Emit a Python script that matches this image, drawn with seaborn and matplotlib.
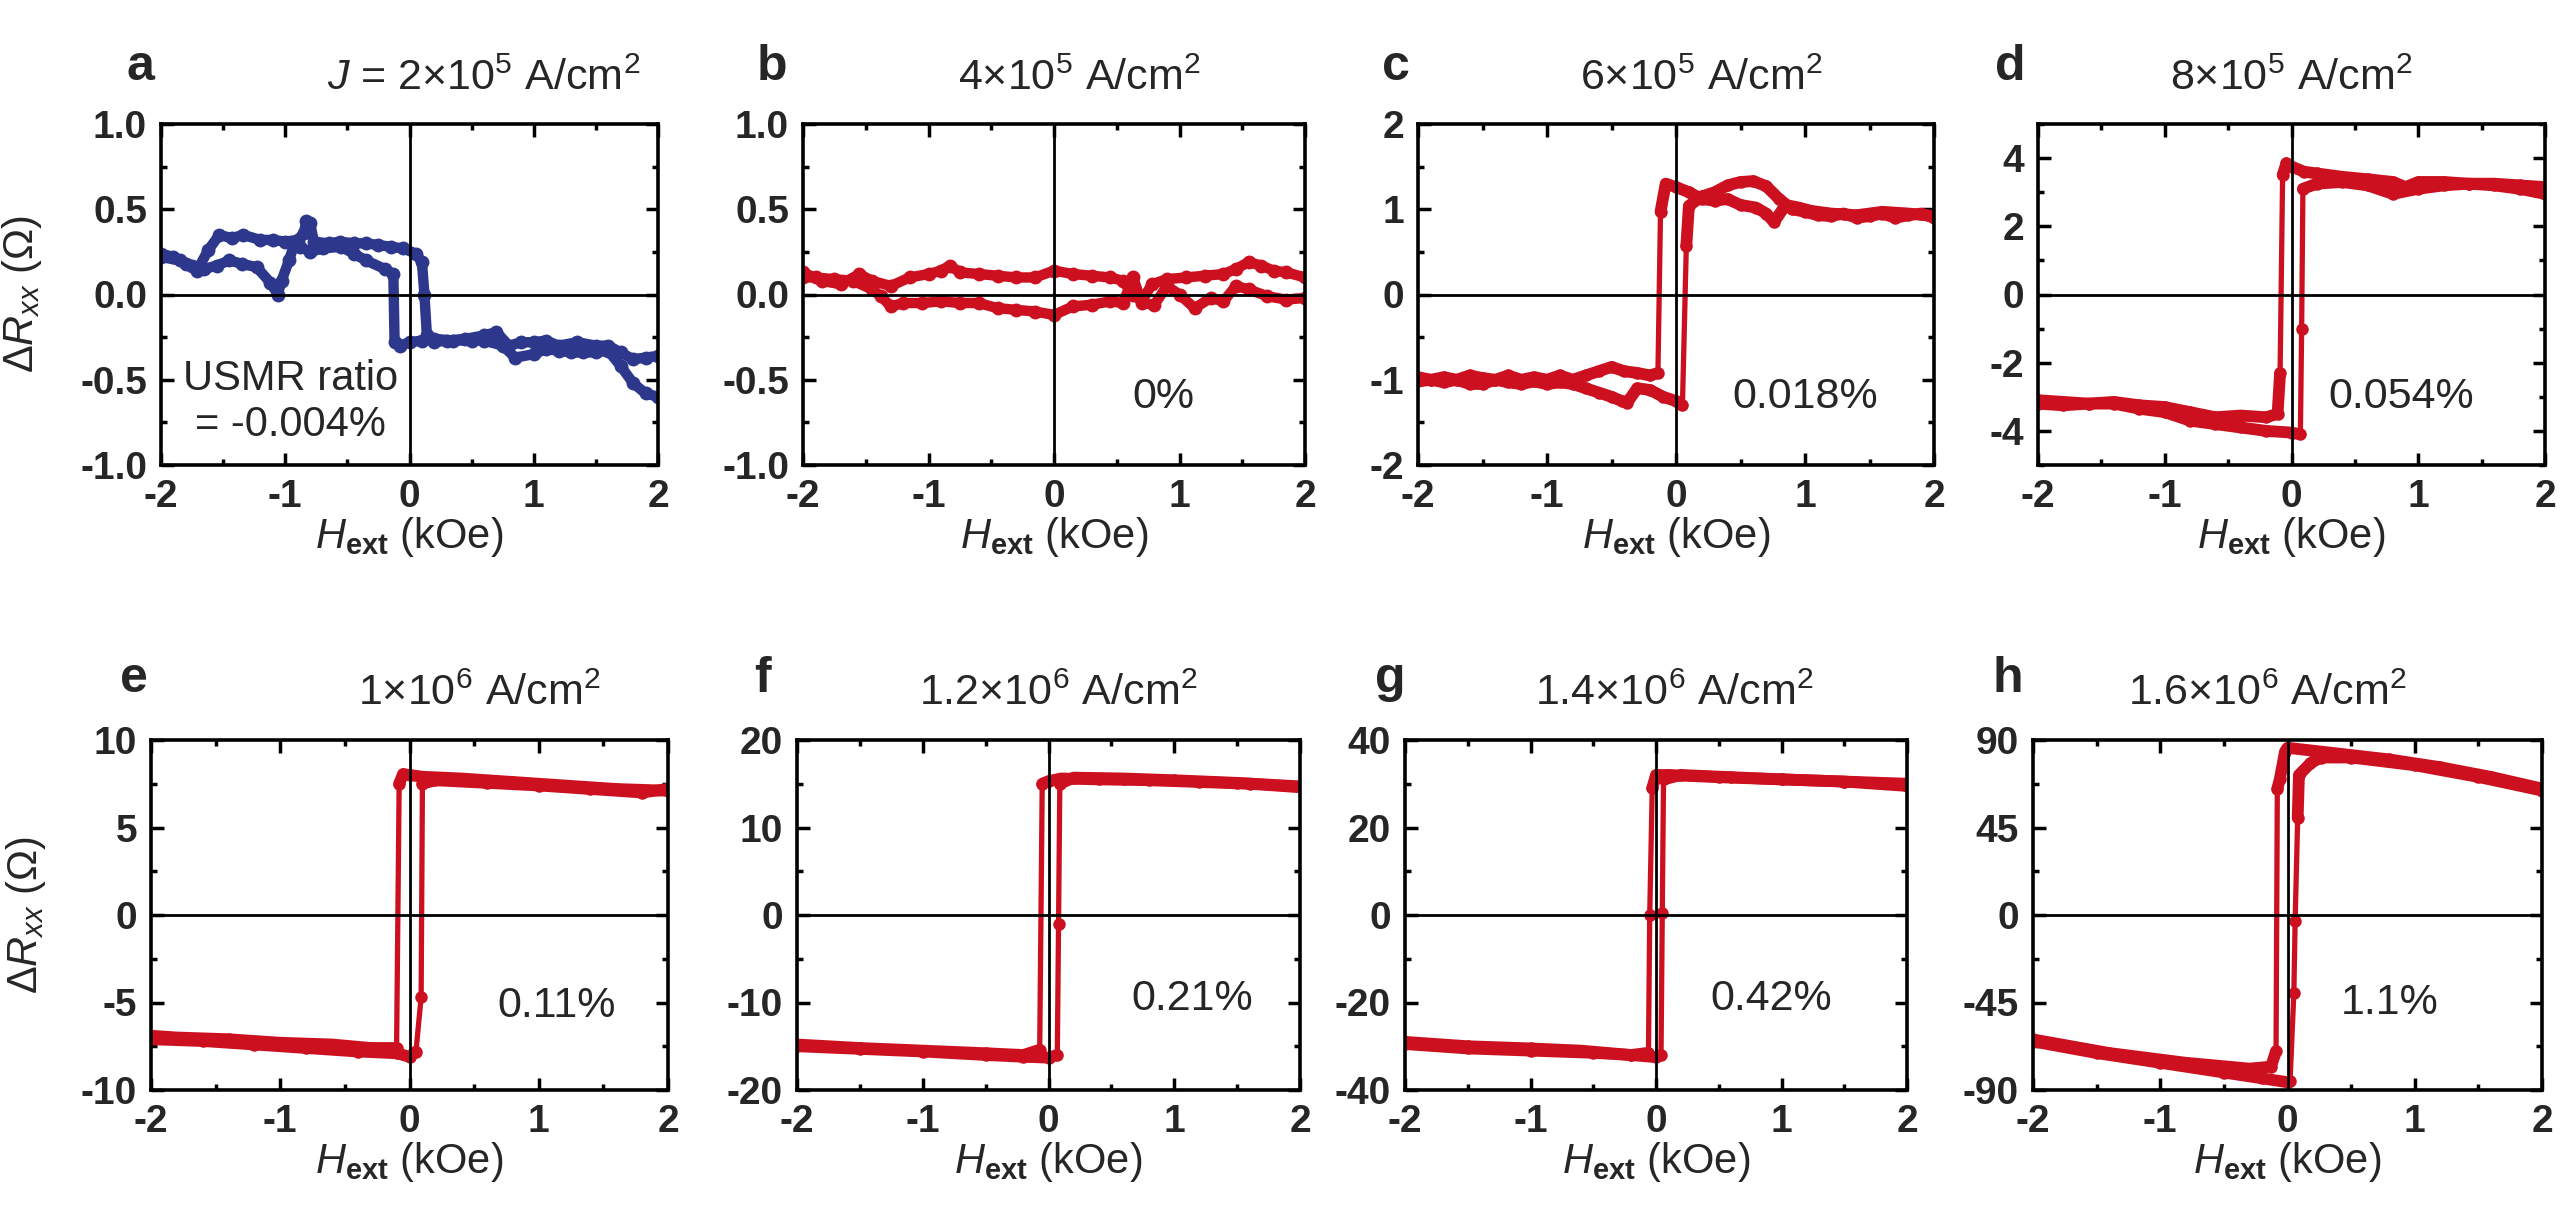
import numpy as np
import pandas as pd
import matplotlib
matplotlib.use("Agg")
import matplotlib.pyplot as plt
import seaborn as sns
from matplotlib.ticker import MultipleLocator, FormatStrFormatter

# ---------------- data (H in kOe, dR in Ohm) ----------------
# panel a (2e5 A/cm2)
a_up_h = [-2.0, -1.9, -1.8, -1.71, -1.62, -1.53, -1.43, -1.34, -1.2, -1.1, -1.0, -0.9, -0.85, -0.83, -0.8, -0.77,
          -0.65, -0.56, -0.45, -0.35, -0.25, -0.15, -0.05, 0.05, 0.1, 0.12, 0.14, 0.2, 0.3, 0.45, 0.6, 0.7, 0.8,
          0.9, 1.0, 1.1, 1.2, 1.35, 1.5, 1.6, 1.7, 1.8, 1.9, 2.0]
a_up_r = [0.24, 0.22, 0.18, 0.14, 0.26, 0.35, 0.33, 0.35, 0.32, 0.32, 0.31, 0.32, 0.36, 0.43, 0.42, 0.31,
          0.30, 0.31, 0.30, 0.30, 0.29, 0.28, 0.27, 0.24, 0.19, 0.0, -0.24, -0.28, -0.27, -0.26, -0.24, -0.22, -0.30,
          -0.28, -0.28, -0.27, -0.30, -0.28, -0.30, -0.30, -0.34, -0.38, -0.37, -0.36]
a_dn_h = [2.0, 1.9, 1.8, 1.7, 1.6, 1.5, 1.4, 1.3, 1.2, 1.1, 1.0, 0.85, 0.75, 0.6, 0.5, 0.35, 0.2, 0.1, 0.0,
          -0.08, -0.12, -0.13, -0.2, -0.35, -0.45, -0.55, -0.7, -0.8, -0.88, -0.92, -0.97, -1.03, -1.06, -1.12,
          -1.23, -1.35, -1.45, -1.55, -1.65, -1.75, -1.85, -2.0]
a_dn_r = [-0.60, -0.58, -0.52, -0.42, -0.33, -0.34, -0.34, -0.34, -0.33, -0.32, -0.35, -0.37, -0.30, -0.27,
          -0.27, -0.27, -0.26, -0.27, -0.28, -0.30, -0.28, 0.12, 0.15, 0.20, 0.24, 0.28, 0.27, 0.25, 0.28, 0.31,
          0.20, 0.08, 0.0, 0.07, 0.16, 0.18, 0.20, 0.17, 0.15, 0.17, 0.20, 0.22]

# panel b (4e5 A/cm2)
b_up_h = [-2.0, -1.85, -1.7, -1.55, -1.45, -1.3, -1.15, -1.0, -0.9, -0.83, -0.75, -0.6, -0.45, -0.3, -0.15, 0.0,
          0.15, 0.3, 0.45, 0.55, 0.63, 0.7, 0.78, 0.9, 1.05, 1.2, 1.35, 1.45, 1.55, 1.65, 1.75, 1.85, 2.0]
b_up_r = [0.13, 0.08, 0.06, 0.12, 0.08, 0.05, 0.10, 0.12, 0.14, 0.17, 0.13, 0.12, 0.11, 0.10, 0.10, 0.14,
          0.12, 0.11, 0.10, 0.08, 0.0, -0.04, 0.06, 0.09, 0.10, 0.11, 0.12, 0.15, 0.19, 0.17, 0.14, 0.13, 0.10]
b_dn_h = [2.0, 1.85, 1.7, 1.55, 1.45, 1.35, 1.25, 1.12, 1.0, 0.9, 0.8, 0.7, 0.63, 0.55, 0.45, 0.3, 0.15, 0.0,
          -0.15, -0.3, -0.45, -0.6, -0.75, -0.9, -1.05, -1.2, -1.3, -1.38, -1.45, -1.6, -1.75, -1.9, -2.0]
b_dn_r = [-0.02, -0.03, -0.01, 0.03, 0.05, -0.04, -0.02, -0.08, 0.0, 0.05, -0.06, -0.05, 0.10, -0.05, -0.04,
          -0.06, -0.07, -0.12, -0.10, -0.09, -0.08, -0.05, -0.05, -0.04, -0.05, -0.05, -0.07, -0.01, 0.03, 0.08,
          0.09, 0.10, 0.10]

# panel c (6e5 A/cm2)
c_up_h = [-2.0, -1.9, -1.8, -1.7, -1.6, -1.5, -1.4, -1.3, -1.2, -1.1, -1.0, -0.9, -0.8, -0.7, -0.6, -0.5, -0.42,
          -0.38, -0.3, -0.2, -0.1, 0.0, 0.05, 0.08, 0.1, 0.2, 0.3, 0.4, 0.5, 0.6, 0.7, 0.8, 0.9, 1.0, 1.1, 1.2, 1.3,
          1.4, 1.5, 1.6, 1.7, 1.8, 1.9, 2.0]
c_up_r = [-1.02, -1.0, -1.03, -1.0, -1.05, -1.05, -1.0, -1.03, -1.05, -1.02, -1.05, -1.03, -1.05, -1.1, -1.15,
          -1.2, -1.25, -1.27, -1.1, -1.12, -1.2, -1.25, -1.3, 0.57, 1.04, 1.15, 1.2, 1.28, 1.32, 1.33, 1.27, 1.12,
          1.0, 0.97, 0.93, 0.92, 0.95, 0.9, 0.92, 0.95, 0.9, 0.93, 0.95, 0.9]
c_dn_h = [2.0, 1.8, 1.6, 1.4, 1.2, 1.05, 0.95, 0.85, 0.76, 0.7, 0.62, 0.5, 0.4, 0.3, 0.2, 0.1, 0.0, -0.08, -0.12,
          -0.14, -0.2, -0.3, -0.4, -0.5, -0.6, -0.7, -0.8, -0.9, -1.0, -1.1, -1.2, -1.3, -1.4, -1.5, -1.6, -1.7,
          -1.8, -1.9, -2.0]
c_dn_r = [0.92, 0.95, 0.97, 0.93, 0.95, 0.98, 1.02, 1.05, 0.85, 0.95, 1.02, 1.05, 1.12, 1.1, 1.12, 1.2, 1.26, 1.3,
          0.97, -0.92, -0.95, -0.92, -0.9, -0.85, -0.9, -0.95, -1.0, -0.95, -1.0, -0.97, -1.0, -0.95, -1.0, -0.98,
          -0.95, -1.0, -0.97, -1.0, -0.97]

# panel d (8e5 A/cm2)
d_up_h = [-2.0, -1.8, -1.6, -1.4, -1.2, -1.0, -0.8, -0.6, -0.4, -0.2, 0.0, 0.07, 0.08, 0.09, 0.2, 0.4, 0.6, 0.8,
          1.0, 1.2, 1.4, 1.6, 1.8, 2.0]
d_up_r = [-3.2, -3.25, -3.2, -3.2, -3.35, -3.45, -3.7, -3.8, -3.9, -4.0, -4.05, -4.1, -1.0, 3.1, 3.25, 3.3, 3.2,
          2.95, 3.1, 3.2, 3.25, 3.2, 3.1, 2.95]
d_dn_h = [2.0, 1.8, 1.6, 1.4, 1.2, 1.0, 0.9, 0.8, 0.6, 0.4, 0.2, 0.1, 0.0, -0.04, -0.07, -0.09, -0.11, -0.2,
          -0.4, -0.6, -0.8, -1.0, -1.2, -1.4, -1.6, -1.8, -2.0]
d_dn_r = [3.15, 3.2, 3.25, 3.25, 3.3, 3.3, 3.15, 3.3, 3.38, 3.45, 3.55, 3.6, 3.75, 3.85, 3.5, -2.3, -3.5, -3.6,
          -3.55, -3.6, -3.45, -3.3, -3.25, -3.15, -3.2, -3.15, -3.1]

# panel e (1e6 A/cm2)
e_up_h = [-2.0, -1.6, -1.2, -0.8, -0.4, -0.1, 0.0, 0.05, 0.09, 0.1, 0.2, 0.6, 1.0, 1.4, 1.8, 2.0]
e_up_r = [-7.1, -7.2, -7.4, -7.6, -7.8, -7.9, -8.1, -7.8, -4.7, 7.5, 7.7, 7.55, 7.4, 7.2, 7.0, 7.2]
e_dn_h = [2.0, 1.6, 1.2, 0.8, 0.4, 0.1, 0.0, -0.05, -0.08, -0.1, -0.3, -0.6, -1.0, -1.4, -1.8, -2.0]
e_dn_r = [7.1, 7.2, 7.4, 7.6, 7.8, 7.9, 8.0, 8.05, 7.5, -7.6, -7.6, -7.4, -7.3, -7.1, -7.0, -6.9]

# panel f (1.2e6 A/cm2)
f_up_h = [-2.0, -1.5, -1.0, -0.5, -0.2, 0.0, 0.07, 0.08, 0.09, 0.2, 0.6, 1.0, 1.5, 2.0]
f_up_r = [-15.0, -15.3, -15.6, -16.0, -16.2, -16.3, -16.0, -1.0, 15.0, 15.7, 15.6, 15.4, 15.1, 14.7]
f_dn_h = [2.0, 1.6, 1.2, 0.8, 0.4, 0.1, 0.0, -0.05, -0.07, -0.2, -0.5, -1.0, -1.5, -2.0]
f_dn_r = [14.6, 15.0, 15.2, 15.4, 15.5, 15.6, 15.3, 15.0, -15.4, -16.0, -15.8, -15.5, -15.2, -14.8]

# panel g (1.4e6 A/cm2)
g_up_h = [-2.0, -1.5, -1.0, -0.5, -0.2, 0.0, 0.04, 0.05, 0.06, 0.2, 0.6, 1.0, 1.5, 2.0]
g_up_r = [-29.5, -30.5, -31.0, -31.5, -32.0, -32.5, -32.0, 0.5, 31.0, 32.0, 31.5, 31.0, 30.5, 30.0]
g_dn_h = [2.0, 1.5, 1.0, 0.5, 0.1, 0.0, -0.03, -0.05, -0.06, -0.2, -0.6, -1.0, -1.5, -2.0]
g_dn_r = [29.5, 30.5, 31.0, 31.5, 32.0, 32.0, 29.0, 0.0, -31.5, -32.0, -31.0, -30.5, -30.0, -29.0]

# panel h (1.6e6 A/cm2)
h_up_h = [-2.0, -1.5, -1.0, -0.5, -0.2, 0.0, 0.02, 0.05, 0.06, 0.08, 0.09, 0.18, 0.26, 0.5, 1.0, 1.5, 2.0]
h_up_r = [-65, -71, -76, -81, -84, -86, -85.5, -40, -3, 50, 72, 78, 81, 81, 77, 71, 64]
h_dn_h = [2.0, 1.6, 1.2, 0.8, 0.4, 0.2, 0.0, -0.02, -0.06, -0.08, -0.09, -0.13, -0.3, -0.8, -1.4, -2.0]
h_dn_r = [65, 71, 76, 80, 83, 84.5, 86, 84, 70, 65, -70, -78, -79, -76, -71, -64]

letters = ["a", "b", "c", "d", "e", "f", "g", "h"]
titles = [r"$\mathit{J}$ = 2×10$^{5}$ A/cm$^{2}$", r"4×10$^{5}$ A/cm$^{2}$", r"6×10$^{5}$ A/cm$^{2}$",
          r"8×10$^{5}$ A/cm$^{2}$", r"1×10$^{6}$ A/cm$^{2}$", r"1.2×10$^{6}$ A/cm$^{2}$",
          r"1.4×10$^{6}$ A/cm$^{2}$", r"1.6×10$^{6}$ A/cm$^{2}$"]
ratios = ["USMR ratio\n= -0.004%", "0%", "0.018%", "0.054%", "0.11%", "0.21%", "0.42%", "1.1%"]
ylims = [1.0, 1.0, 2, 5, 10, 20, 40, 90]
ymajor = [0.5, 0.5, 1, 2, 5, 10, 20, 45]
yminor = [0.25, 0.25, 0.5, 1, 2.5, 5, 10, 22.5]
yfmt = ["%.1f", "%.1f", "%d", "%d", "%d", "%d", "%d", "%d"]

ups = [(a_up_h, a_up_r), (b_up_h, b_up_r), (c_up_h, c_up_r), (d_up_h, d_up_r),
       (e_up_h, e_up_r), (f_up_h, f_up_r), (g_up_h, g_up_r), (h_up_h, h_up_r)]
dns = [(a_dn_h, a_dn_r), (b_dn_h, b_dn_r), (c_dn_h, c_dn_r), (d_dn_h, d_dn_r),
       (e_dn_h, e_dn_r), (f_dn_h, f_dn_r), (g_dn_h, g_dn_r), (h_dn_h, h_dn_r)]

BLUE = "#2D378C"
RED = "#CC1020"

# ---------------- style ----------------
sns.set_theme(style="ticks")
plt.rcParams["font.family"] = ["Liberation Sans", "DejaVu Sans"]
plt.rcParams["mathtext.fontset"] = "custom"
plt.rcParams["mathtext.rm"] = "Liberation Sans"
plt.rcParams["mathtext.it"] = "Liberation Sans:italic"
plt.rcParams["mathtext.bf"] = "Liberation Sans:bold"
plt.rcParams["axes.unicode_minus"] = False

W, H = 2560, 1205
fig = plt.figure(figsize=(W / 100, H / 100), dpi=100)
fig.patch.set_facecolor("white")

# axes boxes in pixels (left, right, top, bottom)
boxes = [(161, 658, 124, 465), (803, 1305, 124, 465), (1418, 1934, 124, 465), (2038, 2545, 124, 465),
         (151, 668, 740, 1090), (797, 1300, 740, 1090), (1405, 1907, 740, 1090), (2033, 2542, 740, 1090)]
letter_x = [-0.07, -0.092, -0.07, -0.085, -0.06, -0.085, -0.06, -0.08]
title_x = [0.965, 0.55, 0.55, 0.50, 0.636, 0.52, 0.536, 0.46]
title_ha = ["right", "center", "center", "center", "center", "center", "center", "center"]
ratio_xy = [(0.26, 0.185), (0.717, 0.2), (0.75, 0.2), (0.716, 0.2), (0.785, 0.24), (0.785, 0.26), (0.73, 0.26),
            (0.70, 0.25)]
ratio_fs = [30, 31, 31, 31, 31, 31, 31, 31]


def plateau_segments(hh, rr, thr):
    """split a sweep into pieces at the switching jumps"""
    segs, cur = [], [0]
    for k in range(1, len(hh)):
        if abs(rr[k] - rr[k - 1]) > thr:
            segs.append(cur)
            cur = [k]
        else:
            cur.append(k)
    segs.append(cur)
    return [s for s in segs if len(s) > 1]


for i in range(8):
    l, r, t, b = boxes[i]
    ax = fig.add_axes([l / W, (H - b) / H, (r - l) / W, (b - t) / H])
    color = BLUE if i == 0 else RED
    thick = i < 2
    for (hh, rr) in (ups[i], dns[i]):
        df = pd.DataFrame({"H": hh, "R": rr})
        sns.lineplot(data=df, x="H", y="R", sort=False, estimator=None, color=color,
                     lw=7.5 if thick else 3.8, marker="o", markersize=10 if thick else 9,
                     markeredgewidth=0, ax=ax, zorder=2)
        if not thick:
            for s in plateau_segments(hh, rr, 0.3 * ylims[i]):
                sns.lineplot(data=df.iloc[s], x="H", y="R", sort=False, estimator=None, color=color,
                             lw=8.5, solid_capstyle="round", ax=ax, zorder=2)
    ax.axhline(0, color="black", lw=2.0, zorder=3)
    ax.axvline(0, color="black", lw=2.0, zorder=3)
    ax.set_xlim(-2, 2)
    ax.set_ylim(-ylims[i], ylims[i])
    ax.xaxis.set_major_locator(MultipleLocator(1))
    ax.xaxis.set_minor_locator(MultipleLocator(0.5))
    ax.yaxis.set_major_locator(MultipleLocator(ymajor[i]))
    ax.yaxis.set_minor_locator(MultipleLocator(yminor[i]))
    ax.yaxis.set_major_formatter(FormatStrFormatter(yfmt[i]))
    ax.xaxis.set_major_formatter(FormatStrFormatter("%d"))
    ax.tick_params(which="both", direction="in", top=True, right=True, width=2.5, color="black")
    ax.tick_params(which="major", length=9, labelsize=28, pad=10)
    ax.tick_params(which="minor", length=4.5)
    for lab in ax.get_xticklabels() + ax.get_yticklabels():
        lab.set_fontweight("bold")
    for sp in ax.spines.values():
        sp.set_linewidth(2.6)
        sp.set_color("black")
    ax.set_xlabel(r"$\mathit{H}_{\mathbf{ext}}$ (kOe)", fontsize=30, labelpad=0)
    if i in (0, 4):
        ax.set_ylabel(r"$\Delta\mathit{R}_{\mathit{xx}}$ (Ω)", fontsize=30)
        ax.yaxis.set_label_coords(-0.235 if i == 0 else -0.2, 0.5)
    else:
        ax.set_ylabel("")
    ax.text(letter_x[i], 1.13 if i < 4 else 1.137, letters[i], transform=ax.transAxes, fontsize=36,
            fontweight="bold", ha="left", va="baseline")
    ax.text(title_x[i], 1.10, titles[i], transform=ax.transAxes, fontsize=31, ha=title_ha[i], va="baseline")
    ax.text(ratio_xy[i][0], ratio_xy[i][1], ratios[i], transform=ax.transAxes, fontsize=ratio_fs[i],
            ha="center", va="center", linespacing=1.2, zorder=5)

fig.savefig("out.png", dpi=100, facecolor="white")
